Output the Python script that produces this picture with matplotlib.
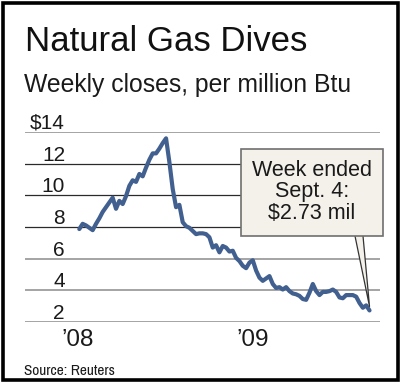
import matplotlib
matplotlib.use("Agg")
import matplotlib.pyplot as plt
import matplotlib.dates as mdates
import matplotlib.transforms as mtransforms
from matplotlib.patches import Rectangle, Polygon
from matplotlib.lines import Line2D
from matplotlib import font_manager
import pandas as pd
import datetime as dt

# ---------------- data ----------------
week_start = "2008-01-04"
week_end = "2009-09-04"
prices = [7.87, 8.2, 8.1, 7.95, 7.8, 8.2, 8.55, 8.95, 9.25, 9.55,
          9.85, 9.15, 9.65, 9.45, 9.95, 10.6, 10.95, 10.85, 11.35, 11.2,
          11.75, 12.25, 12.65, 12.65, 12.95, 13.3, 13.6, 12.1, 10.4, 9.25,
          9.4, 8.3, 8.05, 7.95, 7.75, 7.55, 7.6, 7.6, 7.55, 7.35,
          6.7, 6.85, 6.4, 6.8, 6.7, 6.45, 6.5, 6.05, 5.85, 5.55,
          5.4, 5.75, 5.9, 5.25, 4.8, 4.6, 4.75, 4.9, 4.4, 4.15,
          4.2, 4.05, 4.2, 3.95, 3.8, 3.75, 3.65, 3.45, 3.4, 3.85,
          4.4, 3.95, 3.7, 3.9, 3.9, 3.95, 4.05, 3.9, 3.55, 3.5,
          3.7, 3.7, 3.7, 3.6, 3.2, 2.9, 3.05, 2.73]
ytick_values = [14, 12, 10, 8, 6, 4, 2]
ytick_labels = ["$14", "12", "10", "8", "6", "4", "2"]
xtick_dates = ["2008-01-01", "2009-01-01"]
xtick_labels = ["\u201908", "\u201909"]
title = "Natural Gas Dives"
subtitle = "Weekly closes, per million Btu"
source = "Source: Reuters"
note = "Week ended\nSept. 4:\n$2.73 mil"

dates = pd.date_range(week_start, week_end, freq="W-FRI")

# ---------------- fonts ----------------
ttfs = font_manager.fontManager.ttflist
names = {f.name for f in ttfs}
main_font = "Liberation Sans" if "Liberation Sans" in names else "DejaVu Sans"
narrow_font = None
narrow_stretch = "normal"
for f in ttfs:
    if "Narrow" in f.name or "Condensed" in f.name:
        narrow_font = f.name
        break
if narrow_font is None:
    for f in ttfs:
        if f.name in ("DejaVu Sans", "Noto Sans", "Roboto", "Open Sans") and \
                f.stretch not in ("normal", 500, "500") and "ondensed" in str(f.stretch):
            narrow_font = f.name
            narrow_stretch = "condensed"
            break
plt.rcParams["font.family"] = [main_font, "DejaVu Sans"]

W, H = 400, 383
fig = plt.figure(figsize=(W / 100, H / 100), dpi=100)
fig.patch.set_facecolor("white")

def fx(px):
    return px / W

def fy(py):
    return 1 - py / H

# axes spans gridline extents: x 25..380, y 132 (14) .. 322 (2)
ax = fig.add_axes([fx(25), fy(322), fx(380) - fx(25), (322 - 132) / H])
ax.set_facecolor("none")
ax.set_ylim(2, 14)
ax.set_xlim(mdates.date2num(dt.date(2007, 9, 12)), mdates.date2num(dt.date(2009, 9, 26)))
for s in ax.spines.values():
    s.set_visible(False)

dark = {8, 10, 12}
for v in ytick_values:
    if v in dark:
        ax.axhline(v, color="#2a2a2a", lw=0.9, zorder=1)
    else:
        ax.axhline(v, color="#8c8c8c", lw=1.1, zorder=1)

ax.plot(dates, prices, color="#41608f", lw=3.0, solid_joinstyle="round",
        solid_capstyle="round", zorder=3)

ax.set_yticks([])
ax.set_xticks([mdates.date2num(pd.Timestamp(d)) for d in xtick_dates])
ax.set_xticklabels(xtick_labels, fontsize=17.5, color="#1a1a1a")
ax.tick_params(axis="x", length=0, pad=5.2)

# y labels right-aligned at x=65px, sitting just above each gridline
ytrans = mtransforms.blended_transform_factory(fig.transFigure, ax.transData)
ytrans = ytrans + mtransforms.ScaledTranslation(0, 3 / 100, fig.dpi_scale_trans)
for v, lab in zip(ytick_values, ytick_labels):
    ax.text(fx(65), v, lab, transform=ytrans, ha="right", va="baseline",
            fontsize=15, color="#1a1a1a")

# titles
fig.text(fx(25), fy(51), title, fontsize=25, color="#111111", va="baseline", ha="left")
fig.text(fx(24), fy(92), subtitle, fontsize=17.8, color="#1a1a1a", va="baseline", ha="left")
if narrow_font is not None:
    fig.text(fx(24), fy(375), source, fontsize=11, color="#1a1a1a", va="baseline", ha="left",
             family=[narrow_font, "DejaVu Sans"], fontstretch=narrow_stretch)
else:
    fig.text(fx(24), fy(375), source, fontsize=10, color="#1a1a1a", va="baseline", ha="left")

# annotation box with pointer
box_color = "#f4f0ea"
edge_color = "#6f6f6f"
tip_disp = ax.transData.transform((mdates.date2num(dates[-1]), prices[-1]))
tip = (tip_disp[0], tip_disp[1] + 4)
pl = (355, H - 236)
pr = (363, H - 236)
wedge = Polygon([pl, tip, pr], closed=True, transform=None, facecolor=box_color,
                edgecolor="none", zorder=5)
fig.add_artist(wedge)
fig.add_artist(Line2D([pl[0], tip[0], pr[0]], [pl[1], tip[1], pr[1]], transform=None,
                      color="#333333", lw=0.9, zorder=6))
box = Rectangle((fx(241), fy(236)), fx(383) - fx(241), (236 - 149) / H,
                transform=fig.transFigure, facecolor=box_color, edgecolor=edge_color,
                lw=1.2, zorder=7)
fig.add_artist(box)
fig.text(fx(312), fy(192), note, fontsize=15.5, color="#1a1a1a", ha="center", va="center",
         linespacing=1.05, zorder=8)

# outer frame
fig.add_artist(Rectangle((fx(2.5), fy(379.5)), fx(397.5) - fx(2.5), (379.5 - 2.5) / H,
                         transform=fig.transFigure, facecolor="none", edgecolor="black",
                         lw=2.6, zorder=10))

fig.savefig("out.png", dpi=100, facecolor="white")
